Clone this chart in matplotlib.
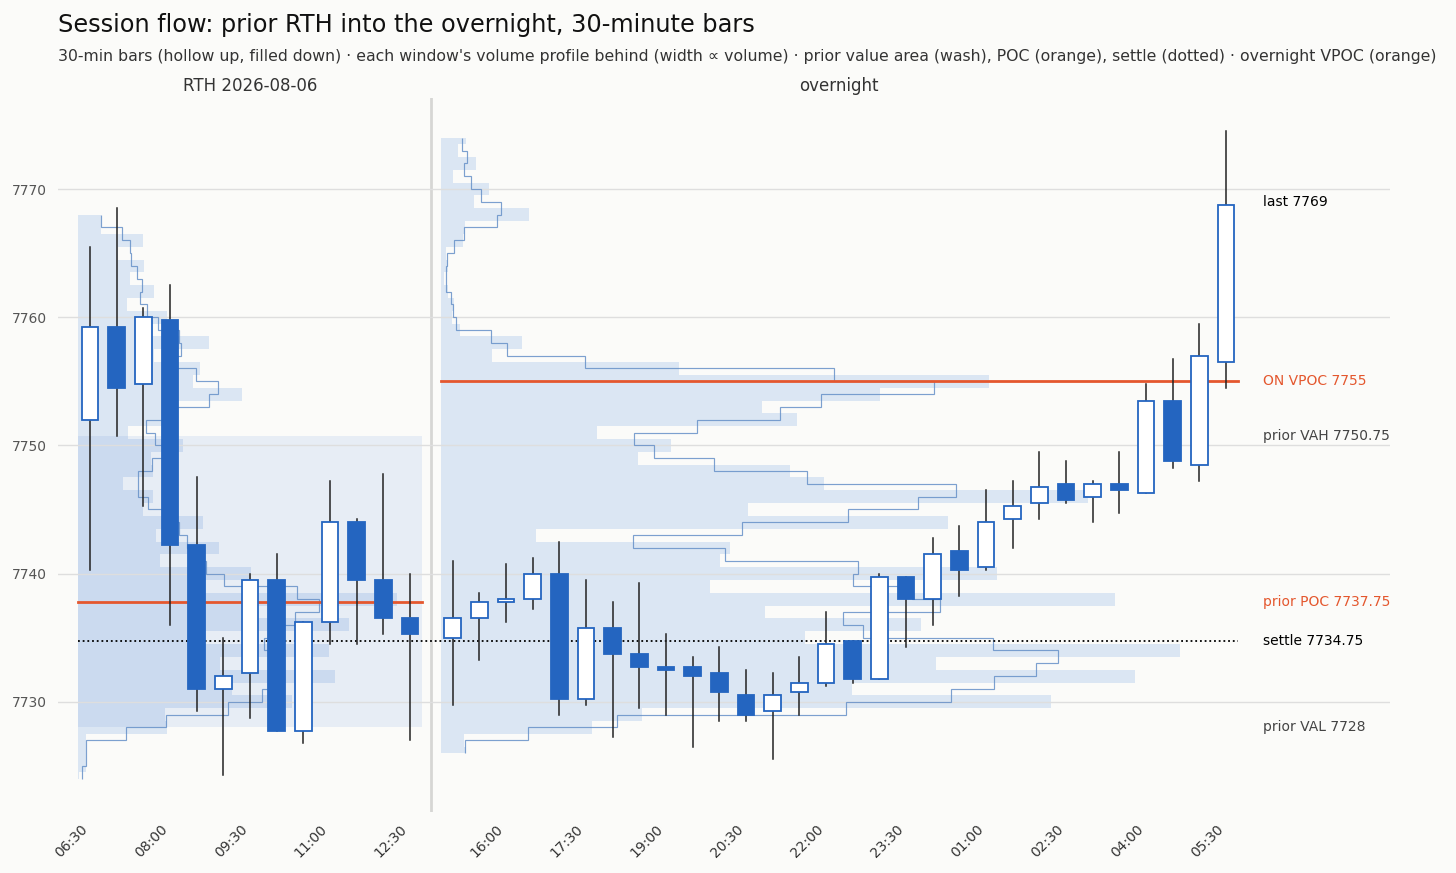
import numpy as np
import matplotlib
matplotlib.use("Agg")
import matplotlib.pyplot as plt
import matplotlib.transforms as mtransforms

# ---- data ----
rth_date = "2026-08-06"
rth_times = ["06:30", "07:00", "07:30", "08:00", "08:30", "09:00", "09:30",
             "10:00", "10:30", "11:00", "11:30", "12:00", "12:30"]
rth_open = [7752, 7759.25, 7754.75, 7759.75, 7742.25, 7731, 7732.25,
            7739.5, 7727.75, 7736.25, 7744, 7739.5, 7736.5]
rth_high = [7765.5, 7768.5, 7760.75, 7762.5, 7747.5, 7735, 7740,
            7741.5, 7736.25, 7747.25, 7744.25, 7747.75, 7740]
rth_low = [7740.25, 7750.75, 7745.25, 7736, 7729.25, 7724.25, 7728.75,
           7727.75, 7726.75, 7734.5, 7734.5, 7735.25, 7727]
rth_close = [7759.25, 7754.5, 7760, 7742.25, 7731, 7732, 7739.5,
             7727.75, 7736.25, 7744, 7739.5, 7736.5, 7735.25]

on_times = ["15:00", "15:30", "16:00", "16:30", "17:00", "17:30", "18:00", "18:30",
            "19:00", "19:30", "20:00", "20:30", "21:00", "21:30", "22:00", "22:30",
            "23:00", "23:30", "00:00", "00:30", "01:00", "01:30", "02:00", "02:30",
            "03:00", "03:30", "04:00", "04:30", "05:00", "05:30"]
on_open = [7735, 7736.5, 7737.75, 7738, 7740, 7730.25, 7735.75, 7733.75,
           7732.75, 7732.75, 7732.25, 7730.5, 7729.25, 7730.75, 7731.5, 7734.75,
           7731.75, 7739.75, 7738, 7741.75, 7740.5, 7744.25, 7745.5, 7747,
           7746, 7747, 7746.25, 7753.5, 7748.5, 7756.5]
on_high = [7741, 7738.5, 7740.75, 7741.25, 7742.5, 7739.5, 7737.75, 7739.25,
           7735.25, 7733.5, 7734.25, 7732.5, 7732.25, 7733.5, 7737, 7734.75,
           7740, 7739.75, 7742.75, 7743.75, 7746.5, 7747.25, 7749.5, 7748.75,
           7747.25, 7749.5, 7754.75, 7756.75, 7759.5, 7774.5]
on_low = [7729.75, 7733.25, 7736.25, 7737.25, 7729, 7729.75, 7727.25, 7729.5,
          7729, 7726.5, 7728.5, 7728.5, 7725.5, 7729, 7731.25, 7731.5,
          7731.75, 7734.25, 7736, 7738.25, 7740.25, 7742, 7744.25, 7745.5,
          7744, 7744.75, 7746.25, 7748.25, 7747.25, 7754.5]
on_close = [7736.5, 7737.75, 7738, 7740, 7730.25, 7735.75, 7733.75, 7732.75,
            7732.5, 7732, 7730.75, 7729, 7730.5, 7731.5, 7734.5, 7731.75,
            7739.75, 7738, 7741.5, 7740.25, 7744, 7745.25, 7746.75, 7745.75,
            7747, 7746.5, 7753.5, 7748.75, 7757, 7768.75]

# volume profiles, 1-point rows, low -> high
rth_prof_lo = 7724
rth_prof_vol = [1, 8, 8, 8, 89, 87, 215, 155, 258, 142, 252, 122, 272, 164, 320,
                120, 174, 82, 141, 78, 125, 65, 75, 45, 75, 73, 105, 50, 87, 97,
                165, 115, 122, 76, 131, 72, 89, 49, 76, 52, 66, 40, 65, 23, 23]
on_prof_lo = 7726
on_prof_vol = [25, 23, 151, 201, 609, 411, 693, 495, 738, 364, 480, 324, 673, 269,
               555, 279, 289, 95, 507, 307, 646, 383, 349, 197, 230, 156, 356, 321,
               439, 547, 238, 51, 81, 19, 11, 13, 7, 3, 7, 5, 22, 24, 88, 33, 48,
               12, 35, 17, 25]

prior_vah = 7750.75
prior_val = 7728
prior_poc = 7737.75
settle = 7734.75
on_vpoc = 7755

# ---- style ----
BG = "#fbfbf9"
BLUE = "#2465c0"
WASH = "#3a7bd5"
ORANGE = "#e4572e"
GAP = 1.6
HALF = 0.45

fig = plt.figure(figsize=(14.56, 8.73), dpi=100, facecolor=BG)
ax = fig.add_axes([58 / 1456, 1 - 812 / 873, 1332 / 1456, 714 / 873])
ax.set_facecolor(BG)

rth_x = np.arange(len(rth_times), dtype=float)
on_x = rth_x[-1] + GAP + np.arange(len(on_times))


def draw_profile(x0, x1, lo, vol):
    vol = np.asarray(vol, dtype=float)
    prices = lo + np.arange(len(vol))
    hi = prices[-1]
    w = vol / vol.max() * 0.927 * (x1 - x0)
    bot = np.clip(prices - 0.5, lo, hi)
    top = np.clip(prices + 0.5, lo, hi)
    ax.barh(bot, w, height=top - bot, left=x0, align="edge",
            color=WASH, alpha=0.16, linewidth=0, zorder=1)
    smooth = (w[:-1] + w[1:]) / 2
    ax.stairs(x0 + smooth, prices, orientation="horizontal", baseline=None,
              color="#6690c8", lw=0.85, alpha=0.85, zorder=1.6)


def draw_candles(xs, o, h, l, c):
    for x, oo, hh, ll, cc in zip(xs, o, h, l, c):
        ax.plot([x, x], [ll, hh], color="#222222", lw=1.1, zorder=2.5)
        up = cc >= oo
        ax.bar(x, abs(cc - oo), bottom=min(oo, cc), width=0.62,
               color="white" if up else BLUE, edgecolor=BLUE, lw=1.3, zorder=3)


r0, r1 = rth_x[0] - HALF, rth_x[-1] + HALF
o0, o1 = on_x[0] - HALF, on_x[-1] + HALF

# prior value area wash
ax.fill_between([r0, r1], prior_val, prior_vah, color=WASH, alpha=0.1,
                linewidth=0, zorder=0.8)
draw_profile(r0, r1, rth_prof_lo, rth_prof_vol)
draw_profile(o0, o1, on_prof_lo, on_prof_vol)

ax.plot([r0, r1], [prior_poc, prior_poc], color=ORANGE, lw=2, zorder=2)
ax.plot([o0, o1], [on_vpoc, on_vpoc], color=ORANGE, lw=2, zorder=2)
ax.plot([r0, o1], [settle, settle], color="black", lw=1.3, ls=(0, (1, 1.6)), zorder=2)

draw_candles(rth_x, rth_open, rth_high, rth_low, rth_close)
draw_candles(on_x, on_open, on_high, on_low, on_close)

ax.axvline((rth_x[-1] + on_x[0]) / 2, color="#d6d6d4", lw=2, zorder=0.5)

# right-hand level labels
lx = on_x[-1] + 1.4
last = round(on_close[-1])
levels = [(last, "last %d" % last, "black"),
          (on_vpoc, "ON VPOC %g" % on_vpoc, ORANGE),
          (prior_vah, "prior VAH %g" % prior_vah, "#444444"),
          (prior_poc, "prior POC %g" % prior_poc, ORANGE),
          (settle, "settle %g" % settle, "black"),
          (prior_val, "prior VAL %g" % prior_val, "#444444")]
for y, s, col in levels:
    ax.text(lx, y, s, color=col, fontsize=10, va="center", ha="left")

# window labels
trans = mtransforms.blended_transform_factory(ax.transData, ax.transAxes)
ax.text((r0 + r1) / 2, 1.017, "RTH " + rth_date, transform=trans, ha="center",
        va="center", fontsize=12, color="#333333")
ax.text((o0 + o1) / 2, 1.017, "overnight", transform=trans, ha="center",
        va="center", fontsize=12, color="#333333")

# axes
ax.set_xlim(-1.2, 48.75)
ax.set_ylim(7721.4, 7777.1)
ax.set_yticks([7730, 7740, 7750, 7760, 7770])
ax.set_axisbelow("line")
ax.grid(axis="y", color="#dedede", lw=1)
ticks = list(rth_x[::3]) + list(on_x[2::3])
labels = rth_times[::3] + on_times[2::3]
ax.set_xticks(ticks)
ax.set_xticklabels(labels, rotation=45, ha="right")
ax.tick_params(axis="x", length=0, pad=7, labelsize=10, labelcolor="#333333")
ax.tick_params(axis="y", length=0, pad=8, labelsize=10, labelcolor="#555555")
for sp in ax.spines.values():
    sp.set_visible(False)

fig.text(58 / 1456, 1 - 25 / 873, "Session flow: prior RTH into the overnight, 30-minute bars",
         fontsize=17.3, va="center", ha="left", color="#111111")
fig.text(58 / 1456, 1 - 57 / 873,
         "30-min bars (hollow up, filled down) \u00b7 each window's volume profile behind "
         "(width \u221d volume) \u00b7 prior value area (wash), POC (orange), settle (dotted) "
         "\u00b7 overnight VPOC (orange)",
         fontsize=11.35, va="center", ha="left", color="#333333")

fig.savefig("out.png", dpi=100, facecolor=BG)
